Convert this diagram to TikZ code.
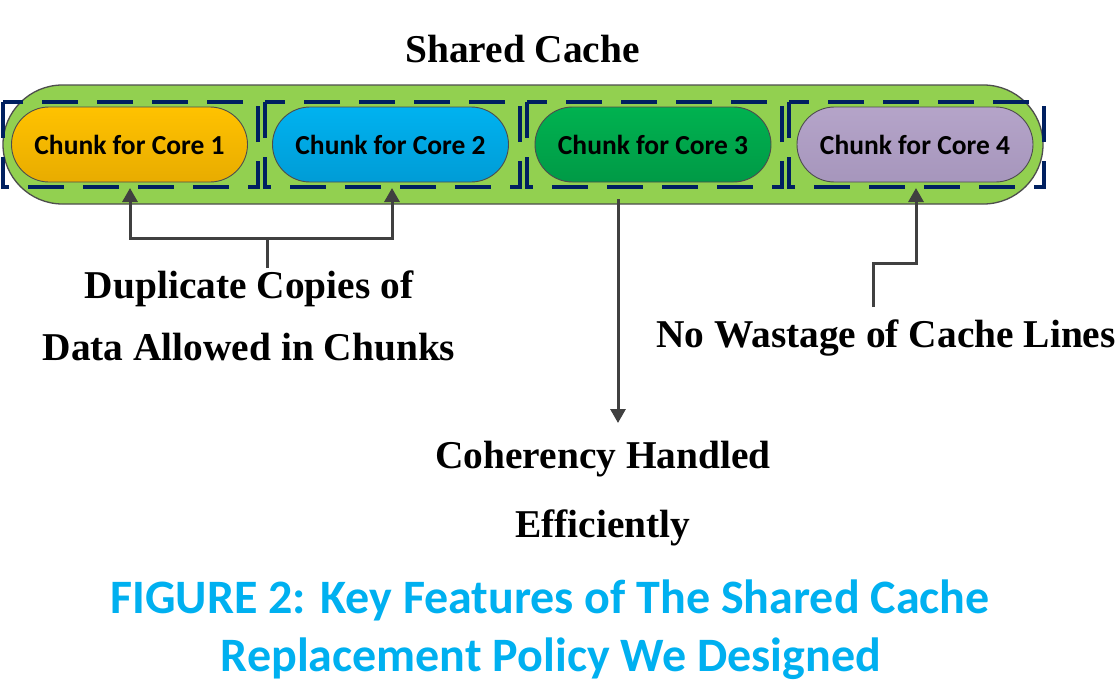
\documentclass[tikz,border=0pt]{standalone}
\usepackage{fontspec}
\setmainfont{Liberation Serif}
\newfontfamily\calfont{Carlito}
\usetikzlibrary{arrows.meta,shapes.misc}
\definecolor{bandgreen}{HTML}{92D050}
\definecolor{edgegray}{HTML}{4D4D4D}
\definecolor{navy}{HTML}{002060}
\definecolor{arrgray}{HTML}{404040}
\definecolor{capblue}{HTML}{00B0F0}
\tikzset{
  band/.style={rounded rectangle, draw=edgegray, line width=1.3pt, fill=bandgreen,
    minimum width=1040pt, minimum height=119pt, inner sep=0pt},
  pill/.style={rounded rectangle, draw=edgegray, line width=0.9pt,
    minimum width=236pt, minimum height=75pt, inner sep=0pt,
    font=\calfont\bfseries\fontsize{27.5}{33}\selectfont},
  dashbox/.style={draw=navy, line width=4.2pt, dash pattern=on 36pt off 19pt},
  conn/.style={draw=arrgray, line width=3pt},
  arr/.style={conn, -{Triangle[width=15pt,length=14pt]}},
  lbl/.style={anchor=base, inner sep=0pt, font=\bfseries\fontsize{39.4}{47}\selectfont},
  captext/.style={anchor=base, inner sep=0pt, text=capblue, font=\calfont\bfseries\fontsize{48}{58}\selectfont}
}
\begin{document}
\begin{tikzpicture}[x=1pt,y=-1pt]
\path[use as bounding box, fill=white] (0,0) rectangle (1119,685);

% title
\node[lbl] (title) at (522.5,63) {Shared Cache};

% shared cache band
\node[band] (cache) at (523,144.5) {};

% chunks
\node[pill, top color={rgb,255:red,255;green,194;blue,0}, bottom color={rgb,255:red,232;green,172;blue,0}] (p1) at (129.5,144.5) {Chunk for Core 1};
\node[pill, top color={rgb,255:red,0;green,178;blue,240}, bottom color={rgb,255:red,0;green,156;blue,214}] (p2) at (390.5,144.5) {Chunk for Core 2};
\node[pill, top color={rgb,255:red,0;green,178;blue,80}, bottom color={rgb,255:red,0;green,154;blue,70}] (p3) at (653,144.5) {Chunk for Core 3};
\node[pill, top color={rgb,255:red,181;green,164;blue,201}, bottom color={rgb,255:red,166;green,150;blue,188}] (p4) at (915,144.5) {Chunk for Core 4};

% dashed partitions
\draw[dashbox] (3,102) rectangle (258,187);
\draw[dashbox] (265,102) rectangle (520,187);
\draw[dashbox] (527,102) rectangle (782,187);
\draw[dashbox] (789,102) rectangle (1044,187);

% labels
\node[lbl] (dupA) at (249,298) {Duplicate Copies of};
\node[lbl] (dupB) at (249,360) {Data Allowed in Chunks};
\node[lbl] (nowaste) at (886,347) {No Wastage of Cache Lines};
\node[lbl] (cohA) at (603,468) {Coherency Handled};
\node[lbl] (cohB) at (603,537) {Efficiently};

% caption
\node[captext] (capA) at (550,613) {FIGURE 2: Key Features of The Shared Cache};
\node[captext] (capB) at (551,671) {Replacement Policy We Designed};

% connector coordinates
\coordinate (t1) at (130,188);
\coordinate (t2) at (392,188);
\coordinate (j12) at (267,238);
\coordinate (s12) at (267,268);
\coordinate (s3) at (618,199);
\coordinate (t3) at (618,423);
\coordinate (t4) at (916,188);
\coordinate (b4) at (873,263);
\coordinate (s4) at (873,307);

% connectors
\draw[conn] (s12) -- (j12);
\draw[arr] (j12) -| (t1);
\draw[arr] (j12) -| (t2);
\draw[arr] (s3) -- (t3);
\draw[arr] (s4) -- (b4) -| (t4);
\end{tikzpicture}
\end{document}
